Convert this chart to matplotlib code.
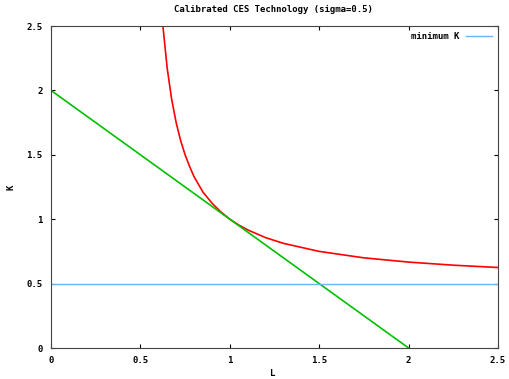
import matplotlib
matplotlib.use('Agg')
import matplotlib.pyplot as plt

# values
iso_L = [0.62, 0.65, 0.675, 0.70, 0.725, 0.75, 0.775, 0.80, 0.825, 0.85,
         0.90, 0.95, 1.00, 1.05, 1.10, 1.20, 1.30, 1.50, 1.75, 2.00,
         2.25, 2.50]
iso_K = [2.58, 2.17, 1.93, 1.75, 1.61, 1.50, 1.41, 1.33, 1.27, 1.21,
         1.125, 1.056, 1.00, 0.955, 0.917, 0.857, 0.8125, 0.75, 0.70,
         0.667, 0.643, 0.625]
budget_L = [0.0, 2.0]
budget_K = [2.0, 0.0]
min_K = 0.5

x_ticks = [0, 0.5, 1, 1.5, 2, 2.5]
y_ticks = [0, 0.5, 1, 1.5, 2, 2.5]
tick_labels = ['0', '0.5', '1', '1.5', '2', '2.5']

font = {'family': 'DejaVu Sans Mono', 'weight': 'bold', 'size': 6.5}

fig = plt.figure(figsize=(5.1, 3.79), dpi=100)
ax = fig.add_axes([51 / 510, 1 - 348 / 379, 447 / 510, 322 / 379])

ax.plot(iso_L, iso_K, color='#ff0000', lw=1.2)
ax.plot(budget_L, budget_K, color='#00c000', lw=1.2)
ax.axhline(min_K, color='#6cb4f0', lw=1.0, label='minimum K')

ax.set_xlim(0, 2.5)
ax.set_ylim(0, 2.5)
ax.set_xticks(x_ticks)
ax.set_yticks(y_ticks)
ax.set_xticklabels(tick_labels, fontdict=font)
ax.set_yticklabels(tick_labels, fontdict=font)
ax.tick_params(direction='in', length=3, width=0.8, top=True, right=True,
               pad=6)
for s in ax.spines.values():
    s.set_linewidth(0.8)
    s.set_color('#444444')

# axis labels placed like gnuplot does
fig.text(273 / 510, 1 - 374 / 379, 'L', ha='center', va='center', **font)
fig.text(11 / 510, 1 - 187 / 379, 'K', ha='center', va='center',
         rotation=90, **font)
fig.text(273 / 510, 1 - 9 / 379, 'Calibrated CES Technology (sigma=0.5)',
         ha='center', va='center', **font)

leg = ax.legend(loc='upper right', frameon=False, prop=font,
                handlelength=2.8, markerfirst=False, borderaxespad=0.3)

fig.savefig('out.png', dpi=100)
